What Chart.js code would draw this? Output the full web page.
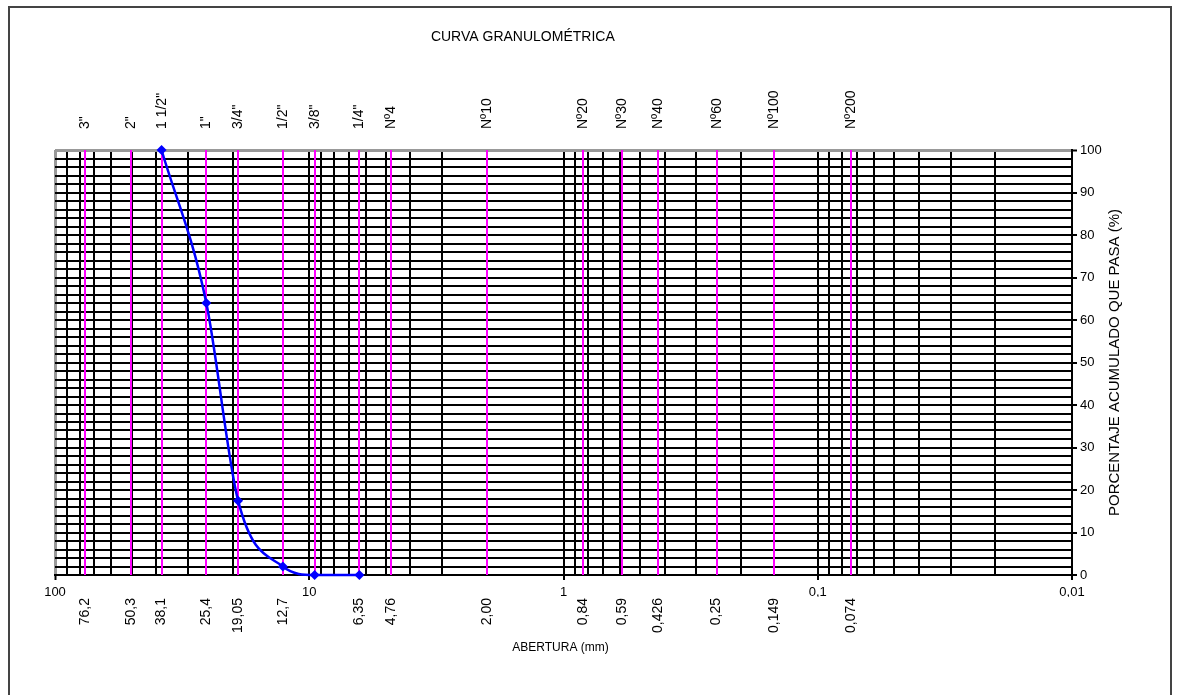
<!DOCTYPE html>
<html lang="es">
<head>
<meta charset="utf-8">
<title>Curva granulométrica</title>
<script src="https://cdn.jsdelivr.net/npm/chart.js"></script>
<style>
  html, body { margin: 0; padding: 0; background: #fff; }
  #marco { position: absolute; left: 8px; top: 6px; width: 1160px; height: 720px; border: 2px solid #444; }
  #grafico { position: absolute; left: 0; top: 0; }
</style>
</head>
<body>
<div id="marco"></div>
<canvas id="grafico" width="1178" height="695"></canvas>
<script>
// Tamices (abertura en mm)
const tamices = ['3"', '2"', '1 1/2"', '1"', '3/4"', '1/2"', '3/8"', '1/4"', 'Nº4', 'Nº10', 'Nº20', 'Nº30', 'Nº40', 'Nº60', 'Nº100', 'Nº200'];
const aberturaTamiz = [76.2, 50.3, 38.1, 25.4, 19.05, 12.7, 9.525, 6.35, 4.76, 2.00, 0.84, 0.59, 0.426, 0.25, 0.149, 0.074];
const etiquetaAbertura = ['76,2', '50,3', '38,1', '25,4', '19,05', '12,7', '', '6,35', '4,76', '2,00', '0,84', '0,59', '0,426', '0,25', '0,149', '0,074'];

// Escala logaritmica
const decadas = [100, 10, 1, 0.1, 0.01];
const etiquetaDecada = ['100', '10', '1', '0,1', '0,01'];

// Resultado del ensayo
const aberturaEnsayo = [38.1, 25.4, 19.05, 12.7, 9.525, 6.35];
const porcentajePasa = [100, 64, 17.5, 2, 0, 0];

const titulo = 'CURVA GRANULOMÉTRICA';
const tituloX = 'ABERTURA (mm)';
const tituloY = 'PORCENTAJE ACUMULADO QUE PASA (%)';

const fuente = '"Liberation Sans", Arial, sans-serif';

// lineas de la grilla log: 1..9 por decada
let grillaLog = [];
for (let e = -2; e <= 1; e++) {
    for (let m = 1; m <= 9; m++) {
        grillaLog.push(Number((m * Math.pow(10, e)).toPrecision(2)));
    }
}
grillaLog.push(100);

const textos = {
    id: 'textos',
    afterDraw(chart) {
        const ctx = chart.ctx;
        const a = chart.chartArea;
        ctx.save();
        ctx.fillStyle = '#000';
        ctx.textAlign = 'center';
        ctx.textBaseline = 'middle';
        ctx.font = '14px ' + fuente;
        ctx.fillText(titulo, a.left + (a.right - a.left) * 0.46, 37);
        ctx.font = '12px ' + fuente;
        ctx.fillText(tituloX, (a.left + a.right) / 2 - 3, 648);
        ctx.translate(a.right + 43, (a.top + a.bottom) / 2);
        ctx.rotate(-Math.PI / 2);
        ctx.font = '15px ' + fuente;
        ctx.fillText(tituloY, 0, 0);
        ctx.restore();
    }
};

const ctx = document.getElementById('grafico').getContext('2d');
const curva = new Chart(ctx, {
    type: 'line',
    data: {
        datasets: [{
            label: 'Curva',
            data: aberturaEnsayo.map((x, i) => ({x: x, y: porcentajePasa[i]})),
            borderColor: '#0000ff',
            backgroundColor: '#0000ff',
            borderWidth: 2.5,
            pointStyle: 'rectRot',
            pointRadius: 5,
            pointBorderWidth: 0,
            cubicInterpolationMode: 'monotone',
            clip: false,
            xAxisID: 'x',
            yAxisID: 'y'
        }]
    },
    options: {
        responsive: false,
        animation: false,
        layout: { padding: { left: 55, right: 66, top: 0, bottom: 0 } },
        plugins: {
            legend: { display: false },
            tooltip: { enabled: false }
        },
        scales: {
            x: {
                type: 'logarithmic',
                position: 'bottom',
                reverse: true,
                min: 0.01,
                max: 100,
                weight: 0,
                afterBuildTicks: (s) => { s.ticks = grillaLog.map(v => ({value: v})); },
                afterFit: (s) => { s.height = 22; },
                grid: {
                    color: (c) => c.tick && c.tick.value === 100 ? '#999' : '#000',
                    lineWidth: (c) => c.tick && c.tick.value === 100 ? 3 : 2,
                    tickLength: 5,
                    tickColor: (c) => c.tick && decadas.includes(c.tick.value) ? '#000' : 'rgba(0,0,0,0)',
                    tickWidth: 2
                },
                border: { color: '#000', width: 2 },
                ticks: {
                    autoSkip: false,
                    minRotation: 0,
                    maxRotation: 0,
                    padding: 5,
                    color: '#000',
                    font: { family: fuente, size: 13 },
                    callback: (v) => {
                        const i = decadas.indexOf(v);
                        return i >= 0 ? etiquetaDecada[i] : '';
                    }
                }
            },
            xTamiz: {
                type: 'logarithmic',
                position: 'bottom',
                reverse: true,
                min: 0.01,
                max: 100,
                weight: 1,
                afterBuildTicks: (s) => { s.ticks = aberturaTamiz.map(v => ({value: v})); },
                afterFit: (s) => { s.height = 98; },
                grid: { color: '#ff00ff', lineWidth: 2, drawTicks: false, z: 0 },
                border: { display: false },
                ticks: {
                    autoSkip: false,
                    minRotation: 90,
                    maxRotation: 90,
                    padding: 1,
                    color: '#000',
                    font: { family: fuente, size: 14 },
                    callback: (v, i) => etiquetaAbertura[i]
                }
            },
            xTop: {
                type: 'logarithmic',
                position: 'top',
                reverse: true,
                min: 0.01,
                max: 100,
                afterBuildTicks: (s) => { s.ticks = aberturaTamiz.map(v => ({value: v})); },
                afterFit: (s) => { s.height = 150; },
                grid: { display: false, drawTicks: false },
                border: { display: false },
                ticks: {
                    autoSkip: false,
                    minRotation: 90,
                    maxRotation: 90,
                    padding: 21,
                    labelOffset: 17,
                    color: '#000',
                    font: { family: fuente, size: 14 },
                    callback: (v, i) => tamices[i]
                }
            },
            y: {
                type: 'linear',
                position: 'right',
                min: 0,
                max: 100,
                afterFit: (s) => { s.width = 40; },
                grid: {
                    color: (c) => c.tick && c.tick.value === 100 ? '#999' : '#000',
                    lineWidth: (c) => c.tick && c.tick.value === 100 ? 3 : 2,
                    tickLength: 5,
                    tickColor: (c) => c.tick && c.tick.value % 10 === 0 ? '#000' : 'rgba(0,0,0,0)',
                    tickWidth: 2
                },
                border: { color: '#000', width: 2 },
                ticks: {
                    stepSize: 2,
                    autoSkip: false,
                    padding: 3,
                    color: '#000',
                    font: { family: fuente, size: 13 },
                    callback: (v) => v % 10 === 0 ? String(v) : ''
                }
            }
        }
    },
    plugins: [textos]
});
</script>
</body>
</html>
